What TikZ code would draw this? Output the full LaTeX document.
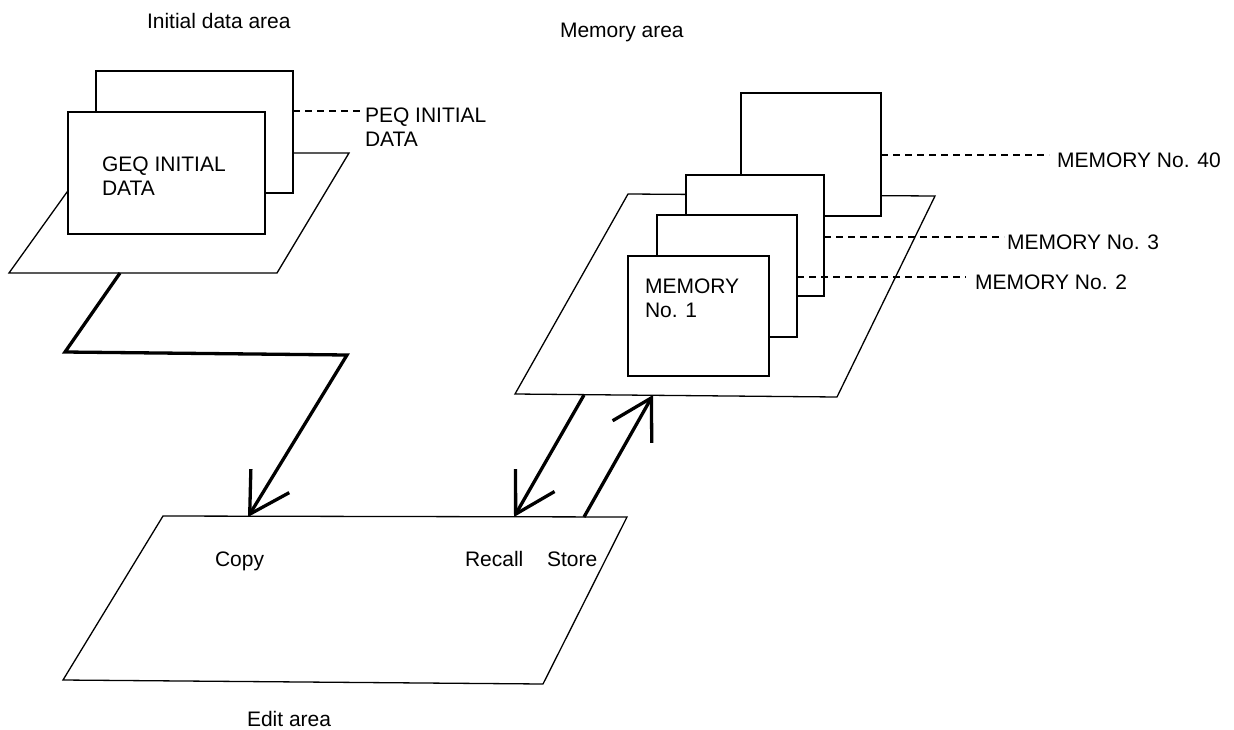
\documentclass[tikz,border=0pt]{standalone}
\usepackage{fontspec}
\setmainfont{Liberation Sans}
\usetikzlibrary{arrows.meta}
\begin{document}
\begin{tikzpicture}[x=1pt,y=-1pt,
  plane/.style={draw, fill=white, line width=1.3pt, line join=miter},
  sheet/.style={draw, fill=white, line width=1.3pt, inner sep=0pt, outer sep=0pt, anchor=north west},
  leader/.style={line width=1.1pt, dash pattern=on 7pt off 5pt},
  flow/.style={line width=3.3pt, line join=miter, -{Straight Barb[length=39pt,width=45pt,line cap=butt]}},
  lab/.style={inner sep=0pt, outer sep=0pt, font=\fontsize{21}{24}\selectfont, align=left}]
\useasboundingbox (0,0) rectangle (1234,729);
\fill[white] (0,0) rectangle (1234,729);

% ---------- initial data area ----------
\coordinate (iTL) at (95,153);
\coordinate (iTR) at (349,153);
\coordinate (iBR) at (277,273);
\coordinate (iBL) at (9,273);
\draw[plane] (iTL) -- (iTR) -- (iBR) -- (iBL) -- cycle;
\node[sheet, minimum width=197pt, minimum height=122pt] (peq) at (96,71) {};
\node[sheet, minimum width=197pt, minimum height=122pt] (geq) at (68,112) {};
\node[lab, anchor=west] (geqt) at (102,176) {GEQ INITIAL\\DATA};
\node[lab, anchor=west] (peqt) at (365,127) {PEQ INITIAL\\DATA};
\coordinate (peqd) at (364,111);
\draw[leader] (peq.east |- peqd) -- (peqd);
\node[lab, anchor=base west] (ititle) at (147,28) {Initial data area};

% ---------- memory area ----------
\coordinate (mTL) at (628,194);
\coordinate (mTR) at (935,196);
\coordinate (mBR) at (837,397);
\coordinate (mBL) at (515,394);
\draw[plane] (mTL) -- (mTR) -- (mBR) -- (mBL) -- cycle;
\node[sheet, minimum width=140pt, minimum height=123pt] (m40) at (741,93) {};
\node[sheet, minimum width=138pt, minimum height=121pt] (m3) at (686,175) {};
\node[sheet, minimum width=140pt, minimum height=122pt] (m2) at (657,215) {};
\node[sheet, minimum width=141pt, minimum height=120pt] (m1) at (628,256) {};
\node[lab, anchor=west] (m1t) at (645,298) {MEMORY\\No. 1};
\node[lab, anchor=base west] (m40t) at (1057,167) {MEMORY No. 40};
\node[lab, anchor=base west] (m3t) at (1007,249) {MEMORY No. 3};
\node[lab, anchor=base west] (m2t) at (975,289) {MEMORY No. 2};
\coordinate (m40d) at (1049,155);
\coordinate (m3d) at (1004,237);
\coordinate (m2d) at (966,277);
\draw[leader] (m40.east |- m40d) -- (m40d);
\draw[leader] (m3.east |- m3d) -- (m3d);
\draw[leader] (m2.east |- m2d) -- (m2d);
\node[lab, anchor=base west] (mtitle) at (560,37) {Memory area};

% ---------- edit area ----------
\coordinate (eTL) at (163,516);
\coordinate (eTR) at (627,517);
\coordinate (eBR) at (543,684);
\coordinate (eBL) at (63,680);
\draw[plane] (eTL) -- (eTR) -- (eBR) -- (eBL) -- cycle;
\node[lab, anchor=base west] (copy) at (215,566) {Copy};
\node[lab, anchor=base west] (recall) at (465,566) {Recall};
\node[lab, anchor=base west] (store) at (547,566) {Store};
\node[lab, anchor=base west] (etitle) at (247,726) {Edit area};

% ---------- flows ----------
\coordinate (z0) at (120,273);
\coordinate (z1) at (65,352);
\coordinate (z2) at (347,355);
\coordinate (copyTip) at (248,517);
\draw[flow] (z0) -- (z1) -- (z2) -- (copyTip);
\coordinate (recFrom) at (584,395);
\coordinate (recTip) at (514,517);
\draw[flow] (recFrom) -- (recTip);
\coordinate (stoFrom) at (584,517);
\coordinate (stoTip) at (653,395);
\draw[flow] (stoFrom) -- (stoTip);
\end{tikzpicture}
\end{document}
